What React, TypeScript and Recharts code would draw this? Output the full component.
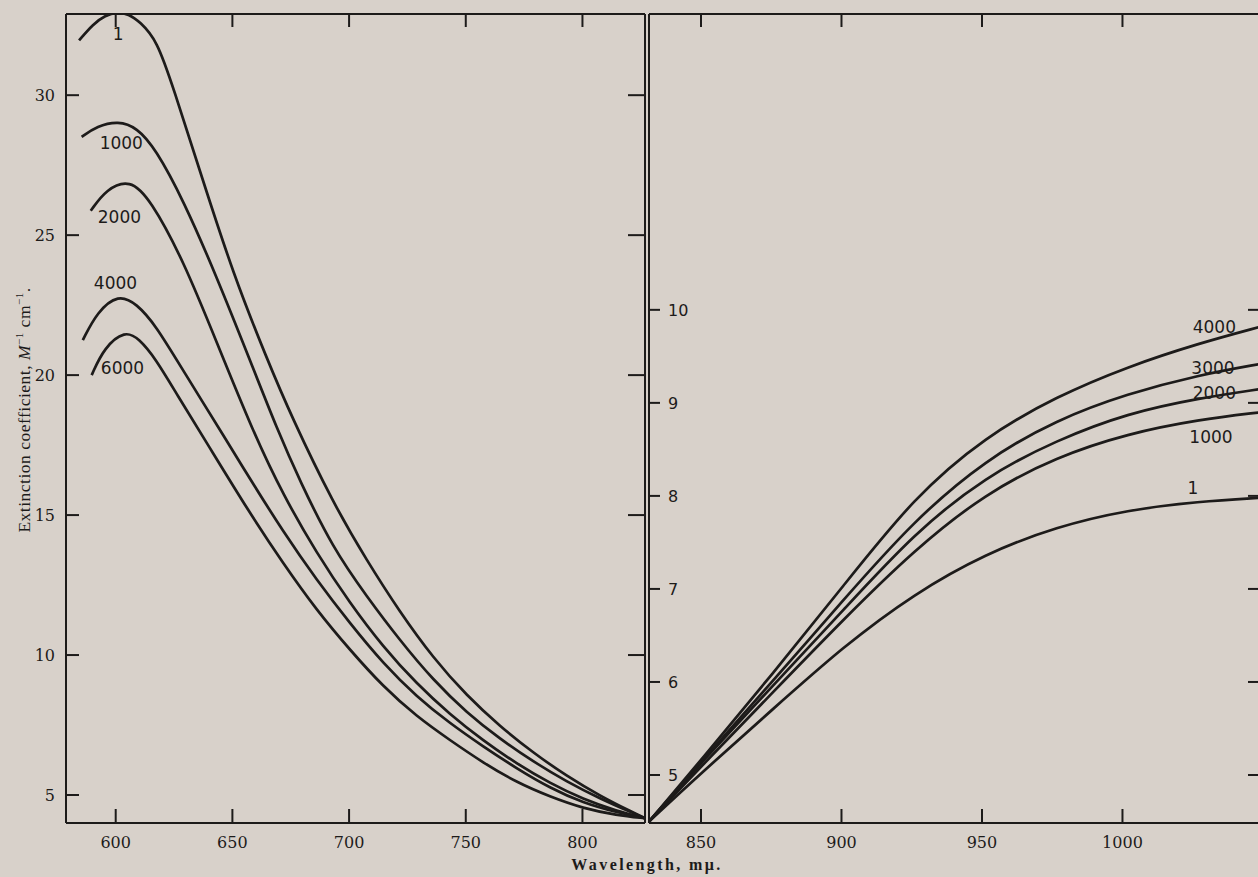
import React from 'react';
import { LineChart, Line, XAxis, YAxis, ReferenceDot } from 'recharts';

// ---------- ticks ----------
const LEFT_NM_TICKS = [600, 650, 700, 750, 800];
const LEFT_E_TICKS = [5, 10, 15, 20, 25, 30];
const RIGHT_NM_TICKS = [850, 900, 950, 1000];
const RIGHT_E_TICKS = [5, 6, 7, 8, 9, 10];

const LEFT_NM_DOMAIN = [578.7, 826.8];
const LEFT_E_DOMAIN = [4.0, 32.9];
const RIGHT_NM_DOMAIN = [831.5, 1049.3];
const RIGHT_E_DOMAIN = [4.484, 13.18];

// ---------- left panel series (wavelength mµ, extinction) ----------
const L_P1 = [
  { nm: 584.3, e: 31.96 }, { nm: 590.4, e: 32.55 }, { nm: 595.5, e: 32.85 }, { nm: 600.6, e: 32.97 },
  { nm: 605.5, e: 32.9 }, { nm: 610.4, e: 32.62 }, { nm: 617.7, e: 31.96 }, { nm: 624.6, e: 30.29 },
  { nm: 637.0, e: 27.05 }, { nm: 650.4, e: 23.6 }, { nm: 664.7, e: 20.6 }, { nm: 675.4, e: 18.5 },
  { nm: 693.2, e: 15.42 }, { nm: 707.5, e: 13.39 }, { nm: 721.8, e: 11.53 }, { nm: 736.1, e: 9.89 },
  { nm: 750.4, e: 8.55 }, { nm: 764.7, e: 7.45 }, { nm: 778.9, e: 6.51 }, { nm: 793.2, e: 5.68 },
  { nm: 807.5, e: 4.97 }, { nm: 821.8, e: 4.37 }, { nm: 826.8, e: 4.17 },
];
const L_P1000 = [
  { nm: 585.4, e: 28.51 }, { nm: 592.0, e: 28.9 }, { nm: 601.1, e: 29.08 }, { nm: 609.0, e: 28.85 },
  { nm: 617.0, e: 28.1 }, { nm: 629.0, e: 26.25 }, { nm: 643.3, e: 23.51 }, { nm: 657.5, e: 20.54 },
  { nm: 669.0, e: 18.1 }, { nm: 679.0, e: 16.2 }, { nm: 693.2, e: 13.8 }, { nm: 707.5, e: 12.1 },
  { nm: 721.8, e: 10.52 }, { nm: 736.1, e: 9.1 }, { nm: 750.4, e: 7.94 }, { nm: 764.7, e: 7.0 },
  { nm: 778.9, e: 6.19 }, { nm: 793.2, e: 5.48 }, { nm: 807.5, e: 4.87 }, { nm: 821.8, e: 4.35 },
  { nm: 826.8, e: 4.17 },
];
const L_P2000 = [
  { nm: 589.3, e: 25.87 }, { nm: 596.0, e: 26.65 }, { nm: 606.1, e: 27.0 }, { nm: 614.7, e: 26.3 },
  { nm: 629.0, e: 24.1 }, { nm: 643.3, e: 21.17 }, { nm: 659.0, e: 17.95 }, { nm: 671.8, e: 15.71 },
  { nm: 686.1, e: 13.64 }, { nm: 700.4, e: 11.85 }, { nm: 714.6, e: 10.29 }, { nm: 729.0, e: 8.97 },
  { nm: 743.2, e: 7.88 }, { nm: 757.5, e: 6.94 }, { nm: 771.8, e: 6.12 }, { nm: 786.1, e: 5.42 },
  { nm: 800.3, e: 4.85 }, { nm: 814.7, e: 4.43 }, { nm: 826.8, e: 4.17 },
];
const L_P4000 = [
  { nm: 585.9, e: 21.25 }, { nm: 592.0, e: 22.25 }, { nm: 601.1, e: 22.9 }, { nm: 609.0, e: 22.55 },
  { nm: 617.0, e: 21.8 }, { nm: 629.0, e: 20.15 }, { nm: 647.6, e: 17.65 }, { nm: 657.5, e: 16.3 },
  { nm: 671.8, e: 14.4 }, { nm: 686.1, e: 12.68 }, { nm: 700.4, e: 11.13 }, { nm: 714.6, e: 9.7 },
  { nm: 729.0, e: 8.51 }, { nm: 743.2, e: 7.56 }, { nm: 757.5, e: 6.73 }, { nm: 771.8, e: 5.95 },
  { nm: 786.1, e: 5.25 }, { nm: 800.3, e: 4.72 }, { nm: 814.7, e: 4.38 }, { nm: 826.8, e: 4.17 },
];
const L_P6000 = [
  { nm: 589.7, e: 20.0 }, { nm: 595.0, e: 20.98 }, { nm: 604.0, e: 21.6 }, { nm: 610.0, e: 21.3 },
  { nm: 617.0, e: 20.6 }, { nm: 626.5, e: 19.27 }, { nm: 638.3, e: 17.68 }, { nm: 657.5, e: 15.06 },
  { nm: 671.8, e: 13.27 }, { nm: 686.1, e: 11.6 }, { nm: 700.4, e: 10.18 }, { nm: 714.6, e: 8.87 },
  { nm: 729.0, e: 7.8 }, { nm: 743.2, e: 6.96 }, { nm: 757.5, e: 6.15 }, { nm: 771.8, e: 5.45 },
  { nm: 786.1, e: 4.94 }, { nm: 800.3, e: 4.52 }, { nm: 814.7, e: 4.28 }, { nm: 826.8, e: 4.17 },
];

// ---------- right panel series ----------
const R_P1 = [
  { nm: 831.5, e: 4.5 }, { nm: 850.0, e: 5.02 }, { nm: 875.3, e: 5.7 }, { nm: 900.6, e: 6.38 },
  { nm: 925.9, e: 6.95 }, { nm: 951.3, e: 7.38 }, { nm: 976.6, e: 7.67 }, { nm: 1001.9, e: 7.85 },
  { nm: 1027.2, e: 7.94 }, { nm: 1049.3, e: 7.98 },
];
const R_P1000 = [
  { nm: 831.5, e: 4.5 }, { nm: 850.0, e: 5.09 }, { nm: 875.3, e: 5.88 }, { nm: 900.6, e: 6.67 },
  { nm: 925.9, e: 7.42 }, { nm: 951.3, e: 8.03 }, { nm: 976.6, e: 8.42 }, { nm: 1001.9, e: 8.67 },
  { nm: 1027.2, e: 8.82 }, { nm: 1049.3, e: 8.9 },
];
const R_P2000 = [
  { nm: 831.5, e: 4.5 }, { nm: 850.0, e: 5.13 }, { nm: 875.3, e: 5.95 }, { nm: 900.6, e: 6.77 },
  { nm: 925.9, e: 7.6 }, { nm: 951.3, e: 8.21 }, { nm: 976.6, e: 8.6 }, { nm: 1001.9, e: 8.89 },
  { nm: 1027.2, e: 9.05 }, { nm: 1049.3, e: 9.15 },
];
const R_P3000 = [
  { nm: 831.5, e: 4.5 }, { nm: 850.0, e: 5.14 }, { nm: 875.3, e: 6.0 }, { nm: 900.6, e: 6.88 },
  { nm: 925.9, e: 7.74 }, { nm: 951.3, e: 8.39 }, { nm: 976.6, e: 8.82 }, { nm: 1001.9, e: 9.1 },
  { nm: 1027.2, e: 9.3 }, { nm: 1049.3, e: 9.42 },
];
const R_P4000 = [
  { nm: 831.5, e: 4.5 }, { nm: 850.0, e: 5.16 }, { nm: 875.3, e: 6.08 }, { nm: 900.6, e: 7.03 },
  { nm: 925.9, e: 7.99 }, { nm: 951.3, e: 8.64 }, { nm: 976.6, e: 9.07 }, { nm: 1001.9, e: 9.39 },
  { nm: 1027.2, e: 9.64 }, { nm: 1049.3, e: 9.82 },
];

const LEFT_SERIES = [
  { name: '1', data: L_P1 },
  { name: '1000', data: L_P1000 },
  { name: '2000', data: L_P2000 },
  { name: '4000', data: L_P4000 },
  { name: '6000', data: L_P6000 },
];
const RIGHT_SERIES = [
  { name: '1', data: R_P1 },
  { name: '1000', data: R_P1000 },
  { name: '2000', data: R_P2000 },
  { name: '3000', data: R_P3000 },
  { name: '4000', data: R_P4000 },
];

// curve labels (data coordinates)
const LEFT_LABELS = [
  { text: '1', nm: 601.0, e: 32.18 },
  { text: '1000', nm: 602.4, e: 28.29 },
  { text: '2000', nm: 601.6, e: 25.64 },
  { text: '4000', nm: 599.9, e: 23.29 },
  { text: '6000', nm: 602.9, e: 20.25 },
];
const RIGHT_LABELS = [
  { text: '4000', nm: 1032.7, e: 9.82 },
  { text: '3000', nm: 1032.2, e: 9.38 },
  { text: '2000', nm: 1032.7, e: 9.11 },
  { text: '1000', nm: 1031.5, e: 8.63 },
  { text: '1', nm: 1025.1, e: 8.09 },
];

const INK = '#1d1b1a';
const PAPER = '#d8d1ca';
const SERIF = '"DejaVu Serif", "Liberation Serif", serif';
const TITLE_SERIF = '"Liberation Serif", "DejaVu Serif", serif';
const SANS = '"DejaVu Sans", sans-serif';

const serifTick = { fill: INK, fontSize: 16, fontFamily: SERIF };
const sansTick = { fill: INK, fontSize: 16, fontFamily: SANS };
const frame = { stroke: INK, strokeWidth: 2 };
const tickStroke = { stroke: INK, strokeWidth: 2 };
const blank = () => '';

function curveLabel(text: string) {
  return { value: text, position: 'center' as const, fill: INK, fontSize: 17, fontFamily: SANS };
}

function LeftPanel() {
  return (
    <LineChart width={660} height={877} margin={{ top: 14, right: 15, bottom: 53, left: 65 }}>
      <XAxis xAxisId="bm" type="number" dataKey="nm" domain={LEFT_NM_DOMAIN} allowDataOverflow ticks={LEFT_NM_TICKS}
        interval={0} height={1} mirror tickSize={14} tickFormatter={blank} axisLine={false} tickLine={tickStroke} />
      <XAxis xAxisId="b" type="number" dataKey="nm" domain={LEFT_NM_DOMAIN} allowDataOverflow ticks={LEFT_NM_TICKS}
        interval={0} height={1} tickSize={0} tickMargin={14} tick={serifTick} axisLine={frame} tickLine={false} />
      <XAxis xAxisId="t" orientation="top" type="number" dataKey="nm" domain={LEFT_NM_DOMAIN} allowDataOverflow
        ticks={LEFT_NM_TICKS} interval={0} height={1} mirror tickSize={13} tickFormatter={blank} axisLine={frame} tickLine={tickStroke} />
      <YAxis yAxisId="lm" type="number" domain={LEFT_E_DOMAIN} allowDataOverflow ticks={LEFT_E_TICKS} interval={0}
        width={1} mirror tickSize={13} tickFormatter={blank} axisLine={false} tickLine={tickStroke} />
      <YAxis yAxisId="l" type="number" domain={LEFT_E_DOMAIN} allowDataOverflow ticks={LEFT_E_TICKS} interval={0}
        width={1} tickSize={0} tickMargin={11} tick={serifTick} axisLine={frame} tickLine={false} />
      <YAxis yAxisId="r" orientation="right" type="number" domain={LEFT_E_DOMAIN} allowDataOverflow ticks={LEFT_E_TICKS}
        interval={0} width={1} mirror tickSize={17} tickFormatter={blank} axisLine={frame} tickLine={tickStroke} />
      {LEFT_SERIES.map((s) => (
        <Line key={s.name} xAxisId="b" yAxisId="l" data={s.data} dataKey="e" type="basis" stroke={INK}
          strokeWidth={2.7} dot={false} activeDot={false} isAnimationActive={false} />
      ))}
      {LEFT_LABELS.map((l) => (
        <ReferenceDot key={l.text} xAxisId="b" yAxisId="l" x={l.nm} y={l.e} r={0} fill="none" stroke="none"
          label={curveLabel(l.text)} />
      ))}
    </LineChart>
  );
}

function RightPanel() {
  return (
    <LineChart width={628} height={877} margin={{ top: 14, right: 14, bottom: 53, left: 2 }}>
      <XAxis xAxisId="bm" type="number" dataKey="nm" domain={RIGHT_NM_DOMAIN} allowDataOverflow ticks={RIGHT_NM_TICKS}
        interval={0} height={1} mirror tickSize={14} tickFormatter={blank} axisLine={false} tickLine={tickStroke} />
      <XAxis xAxisId="b" type="number" dataKey="nm" domain={RIGHT_NM_DOMAIN} allowDataOverflow ticks={RIGHT_NM_TICKS}
        interval={0} height={1} tickSize={0} tickMargin={14} tick={serifTick} axisLine={frame} tickLine={false} />
      <XAxis xAxisId="t" orientation="top" type="number" dataKey="nm" domain={RIGHT_NM_DOMAIN} allowDataOverflow
        ticks={RIGHT_NM_TICKS} interval={0} height={1} mirror tickSize={13} tickFormatter={blank} axisLine={frame} tickLine={tickStroke} />
      <YAxis yAxisId="l" type="number" domain={RIGHT_E_DOMAIN} allowDataOverflow ticks={RIGHT_E_TICKS} interval={0}
        width={1} mirror tickSize={11} tickMargin={8} tick={sansTick} axisLine={frame} tickLine={tickStroke} />
      <YAxis yAxisId="r" orientation="right" type="number" domain={RIGHT_E_DOMAIN} allowDataOverflow ticks={RIGHT_E_TICKS}
        interval={0} width={1} mirror tickSize={13} tickFormatter={blank} axisLine={frame} tickLine={tickStroke} />
      {RIGHT_SERIES.map((s) => (
        <Line key={s.name} xAxisId="b" yAxisId="l" data={s.data} dataKey="e" type="basis" stroke={INK}
          strokeWidth={2.7} dot={false} activeDot={false} isAnimationActive={false} />
      ))}
      {RIGHT_LABELS.map((l) => (
        <ReferenceDot key={l.text} xAxisId="b" yAxisId="l" x={l.nm} y={l.e} r={0} fill="none" stroke="none"
          label={curveLabel(l.text)} />
      ))}
    </LineChart>
  );
}

export default function App() {
  return (
    <div style={{ position: 'absolute', left: 0, top: 0, width: 1258, height: 877, overflow: 'hidden', background: PAPER }}>
      <div style={{ position: 'absolute', left: 0, top: 0 }}>
        <LeftPanel />
      </div>
      <div style={{ position: 'absolute', left: 647, top: 0 }}>
        <RightPanel />
      </div>
      <div
        style={{
          position: 'absolute', left: 24, top: 410, transform: 'translate(-50%, -50%) rotate(-90deg)',
          whiteSpace: 'nowrap', fontFamily: TITLE_SERIF, fontSize: 17.5, color: INK, letterSpacing: 0.5,
        }}
      >
        Extinction coefficient, <i>M</i>
        <sup style={{ fontSize: 11 }}>−1</sup> cm<sup style={{ fontSize: 11 }}>−1</sup>.
      </div>
      <div
        style={{
          position: 'absolute', left: 647, top: 856, transform: 'translateX(-50%)', whiteSpace: 'nowrap',
          fontFamily: TITLE_SERIF, fontSize: 16, fontWeight: 'bold', color: INK, letterSpacing: 2.4,
        }}
      >
        Wavelength, mμ.
      </div>
    </div>
  );
}
